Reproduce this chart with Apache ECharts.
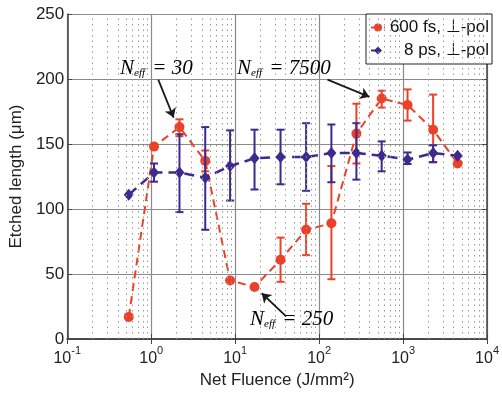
<!DOCTYPE html>
<html>
<head>
<meta charset="utf-8">
<script src="https://cdn.jsdelivr.net/npm/echarts@6/dist/echarts.min.js"></script>
<style>html,body{margin:0;padding:0;background:#fff;}#c{width:502px;height:394px;}</style>
</head>
<body>
<div id="c"></div>
<script>
// Net fluence (J/mm^2) for each measurement
const fluence = [0.54, 1.08, 2.17, 4.4, 8.7, 17, 34.7, 70, 140, 278, 556, 1130, 2280, 4460];
// 600 fs, perpendicular polarisation
const fsLength = [17, 148, 163, 137, 45, 40, 61, 84, 89, 158, 185, 180, 161, 135];
const fsLow    = [null, null, 156, 129, null, null, 44, 64.5, 46, 135, 178, 168, 136, null];
const fsHigh   = [null, null, 169, 145, null, null, 78, 104, 133, 181, 191, 192, 188, null];
// 8 ps, perpendicular polarisation
const psLength = [111, 128, 128, 124, 133, 139, 140, 140, 143, 143, 141, 138, 143, 141];
const psLow    = [null, 121, 97.6, 84, 106.5, 115, 119, 114, 120.6, 122.6, 129, 134.6, 136, null];
const psHigh   = [null, 135, 157.5, 163, 160.5, 161, 161, 166, 165, 166, 152, 143.5, 149, null];
// axes
const xMin = 0.1, xMax = 10000;
const yMin = 0, yMax = 250, yStep = 50;
const minorGridX = [0.2,0.3,0.4,0.5,0.6,0.7,0.8,0.9, 2,3,4,5,6,7,8,9, 20,30,40,50,60,70,80,90,
                    200,300,400,500,600,700,800,900, 2000,3000,4000,5000,6000,7000,8000,9000];
// annotations: arrow start/end in data units
const arrows = [
  [[1.213, 199.5], [1.85, 170.3]],
  [[125.9, 199.5], [396, 186.3]],
  [[40.5, 17.4], [20.7, 35.2]]
];
const annoTexts = ['30', '7500', '250'];

const RED = '#EB4128', BLUE = '#3C2A8C';
const FONT = '"Liberation Sans", Arial, Helvetica, sans-serif';
const SERIF = '"Liberation Serif", "Times New Roman", serif';

function pairs(ys) { return fluence.map((x, i) => [x, ys[i]]); }
function errData(lo, hi) {
  const out = [];
  fluence.forEach((x, i) => { if (lo[i] != null) out.push([x, lo[i], hi[i]]); });
  return out;
}
function errRender(color) {
  return function (params, api) {
    const x = api.value(0), lo = api.value(1), hi = api.value(2);
    const a = api.coord([x, lo]), b = api.coord([x, hi]);
    const w = 4;
    const st = { stroke: color, lineWidth: 2 };
    return { type: 'group', children: [
      { type: 'line', shape: { x1: a[0], y1: a[1], x2: b[0], y2: b[1] }, style: st },
      { type: 'line', shape: { x1: a[0]-w, y1: a[1], x2: a[0]+w, y2: a[1] }, style: st },
      { type: 'line', shape: { x1: b[0]-w, y1: b[1], x2: b[0]+w, y2: b[1] }, style: st }
    ]};
  };
}

const chart = echarts.init(document.getElementById('c'));
const axisLineStyle = { color: '#444', width: 1.5 };
const annoRich = {
  n: { fontFamily: SERIF, fontStyle: 'italic', fontSize: 21, color: '#3a3a3a', lineHeight: 24, verticalAlign: 'bottom' },
  e: { fontFamily: SERIF, fontStyle: 'italic', fontSize: 11, color: '#3a3a3a', lineHeight: 16, verticalAlign: 'bottom', padding: [0, 2, 0, 0] },
  t: { fontFamily: SERIF, fontStyle: 'italic', fontSize: 21, color: '#3a3a3a', lineHeight: 24, verticalAlign: 'bottom' }
};
const annoPos = [[120, 58], [237, 58], [250, 309]];

chart.setOption({
  animation: false,
  grid: { left: 63, right: 10, top: 14, bottom: 53 },
  xAxis: [{
    type: 'log', logBase: 10, min: xMin, max: xMax,
    name: 'Net Fluence (J/mm²)', nameLocation: 'middle', nameGap: 33,
    nameTextStyle: { fontFamily: FONT, fontSize: 17, color: '#222' },
    axisLine: { lineStyle: axisLineStyle },
    axisTick: { inside: true, length: 5, lineStyle: { color: '#444' } },
    splitLine: { show: true, lineStyle: { color: '#8a8a8a', width: 1.2 } },
    axisLabel: {
      margin: 6, color: '#222',
      formatter: v => '{b|10}{s|' + Math.round(Math.log10(v)) + '}',
      rich: {
        b: { fontFamily: FONT, fontSize: 16, color: '#222', lineHeight: 22, verticalAlign: 'bottom' },
        s: { fontFamily: FONT, fontSize: 11, color: '#222', lineHeight: 12, verticalAlign: 'top' }
      }
    }
  }, {
    type: 'log', logBase: 10, min: xMin, max: xMax, position: 'top',
    axisLine: { lineStyle: axisLineStyle },
    axisTick: { inside: true, length: 5, lineStyle: { color: '#444' } },
    axisLabel: { show: false }, splitLine: { show: false }
  }],
  yAxis: [{
    type: 'value', min: yMin, max: yMax, interval: yStep,
    name: 'Etched length (μm)', nameLocation: 'middle', nameGap: 33,
    nameTextStyle: { fontFamily: FONT, fontSize: 17, color: '#222' },
    axisLine: { show: true, lineStyle: axisLineStyle },
    axisTick: { show: true, inside: true, length: 5, lineStyle: { color: '#444' } },
    splitLine: { show: true, lineStyle: { color: '#8a8a8a', width: 1.2 } },
    axisLabel: { margin: 3, fontFamily: FONT, fontSize: 17, color: '#222' }
  }, {
    type: 'value', min: yMin, max: yMax, interval: yStep, position: 'right',
    axisLine: { show: true, lineStyle: axisLineStyle },
    axisTick: { show: true, inside: true, length: 5, lineStyle: { color: '#444' } },
    axisLabel: { show: false }, splitLine: { show: false }
  }],
  legend: {
    right: 10, top: 14, orient: 'vertical',
    itemWidth: 14, itemHeight: 10, itemGap: 6,
    padding: [5, 3, 5, 4],
    borderColor: '#222', borderWidth: 1, backgroundColor: '#fff',
    data: ['600 fs, ⊥-pol', '8 ps, ⊥-pol'],
    formatter: n => '{r|' + n + '}',
    textStyle: { fontFamily: FONT, fontSize: 17, color: '#111',
      rich: { r: { width: 99, align: 'right', fontFamily: FONT, fontSize: 17, color: '#111' } } }
  },
  graphic: annoTexts.map((t, i) => ({
    type: 'text', left: annoPos[i][0], top: annoPos[i][1], z: 10,
    style: { text: '{n|N}{e|eff}{t| = ' + t + '}', rich: annoRich }
  })),
  series: [
    {
      name: 'minor', type: 'line', data: [], silent: true, z: 1,
      markLine: {
        silent: true, symbol: ['none', 'none'], label: { show: false },
        lineStyle: { color: '#9a9a9a', width: 1, type: [1.5, 4] },
        data: minorGridX.map(v => ({ xAxis: v }))
      }
    },
    {
      name: '600 fs, ⊥-pol', type: 'line', data: pairs(fsLength), z: 3,
      symbol: 'circle', symbolSize: 10,
      itemStyle: { color: RED },
      lineStyle: { color: RED, width: 2, type: [8, 5] }
    },
    {
      name: 'fsErr', type: 'custom', data: errData(fsLow, fsHigh), z: 3,
      encode: { x: 0, y: [1, 2] }, renderItem: errRender(RED)
    },
    {
      name: 'psErr', type: 'custom', data: errData(psLow, psHigh), z: 4,
      encode: { x: 0, y: [1, 2] }, renderItem: errRender(BLUE)
    },
    {
      name: '8 ps, ⊥-pol', type: 'line', data: pairs(psLength), z: 4,
      symbol: 'diamond', symbolSize: [10, 12],
      itemStyle: { color: BLUE },
      lineStyle: { color: BLUE, width: 2.5, type: [10, 6] }
    },
    {
      name: 'arrows', type: 'line', data: [], silent: true, z: 6,
      markLine: {
        silent: true, symbol: ['none', 'arrow'], symbolSize: 9, label: { show: false },
        lineStyle: { color: '#1a1a1a', width: 1.8, type: 'solid' },
        data: arrows.map(a => [{ coord: a[0] }, { coord: a[1] }])
      }
    }
  ]
});
</script>
</body>
</html>
